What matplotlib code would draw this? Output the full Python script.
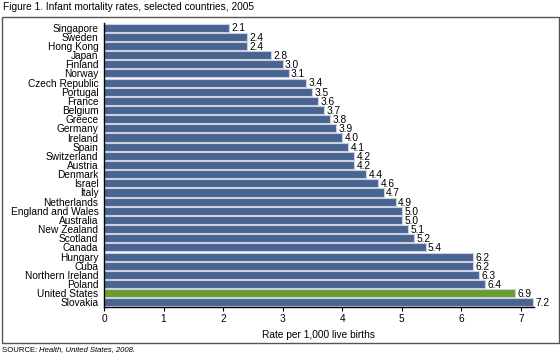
import matplotlib
matplotlib.use("Agg")
import matplotlib.pyplot as plt
from matplotlib.patches import Rectangle

plt.rcParams['font.family'] = ['Liberation Sans', 'DejaVu Sans']

countries = ["Singapore", "Sweden", "Hong Kong", "Japan", "Finland", "Norway",
             "Czech Republic", "Portugal", "France", "Belgium", "Greece", "Germany",
             "Ireland", "Spain", "Switzerland", "Austria", "Denmark", "Israel",
             "Italy", "Netherlands", "England and Wales", "Australia", "New Zealand",
             "Scotland", "Canada", "Hungary", "Cuba", "Northern Ireland", "Poland",
             "United States", "Slovakia"]
rates = [2.1, 2.4, 2.4, 2.8, 3.0, 3.1, 3.4, 3.5, 3.6, 3.7, 3.8, 3.9, 4.0, 4.1,
         4.2, 4.2, 4.4, 4.6, 4.7, 4.9, 5.0, 5.0, 5.1, 5.2, 5.4, 6.2, 6.2, 6.3,
         6.4, 6.9, 7.2]
x_ticks = [0, 1, 2, 3, 4, 5, 6, 7]

blue = '#4a6491'
green = '#6a9c2f'
colors = [green if c == "United States" else blue for c in countries]

W, H = 560, 356
fig = plt.figure(figsize=(W / 100, H / 100), dpi=100)

# outer frame
fig.patches.append(Rectangle((1.5 / W, 1 - 342.5 / H), 557 / W, 326 / H,
                             transform=fig.transFigure, fill=False,
                             edgecolor='#555555', linewidth=1.0))

ax = fig.add_axes([104 / W, 1 - 307 / H, 430 / W, 284 / H])
pos = list(range(len(countries)))
ax.barh(pos, rates, height=0.88, color=colors, edgecolor='#c9d1df', linewidth=0.8)
ax.set_ylim(len(countries) - 0.5, -0.5)
ax.set_xlim(0, 7.22)

for p, r in zip(pos, rates):
    ax.text(r + 0.04, p + 0.1, f"{r:.1f}", va='center', ha='left', fontsize=7.3)

ax.set_yticks(pos)
ax.set_yticklabels(countries, fontsize=7.3)
ax.tick_params(axis='y', length=0, pad=4)
ax.set_xticks(x_ticks)
ax.set_xticklabels([str(t) for t in x_ticks], fontsize=7.3)
ax.tick_params(axis='x', length=3, width=0.8, pad=2)
ax.set_xlabel("Rate per 1,000 live births", fontsize=7.3, labelpad=4)
for s in ['top', 'right']:
    ax.spines[s].set_visible(False)
ax.spines['left'].set_linewidth(1.0)
ax.spines['bottom'].set_linewidth(1.0)

fig.text(3 / W, 1 - 7.5 / H, "Figure 1. Infant mortality rates, selected countries, 2005",
         fontsize=7.3, va='center', ha='left')

src = fig.text(2 / W, 1 - 350 / H, "SOURCE: ", fontsize=5.6, va='center', ha='left')
renderer = fig.canvas.get_renderer()
bb = src.get_window_extent(renderer)
fig.text(bb.x1 / W, 1 - 350 / H, "Health, United States, 2008.", fontsize=5.6,
         va='center', ha='left', style='italic')

fig.savefig('out.png', dpi=100)
